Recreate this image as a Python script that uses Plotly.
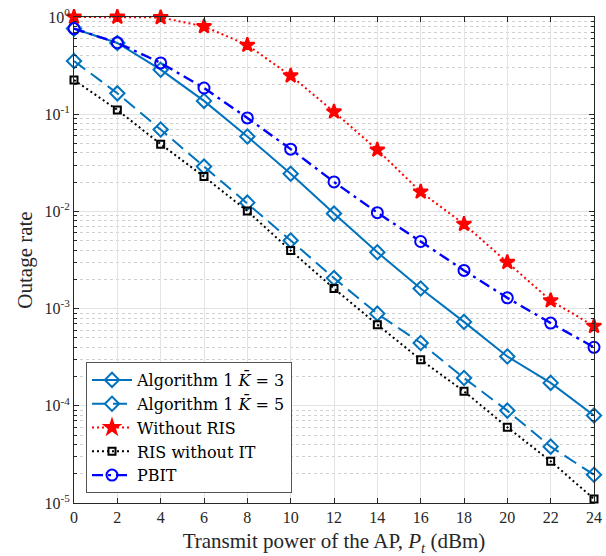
import plotly.graph_objects as go

# Transmit power of the AP (dBm)
power_dbm = [0, 2, 4, 6, 8, 10, 12, 14, 16, 18, 20, 22, 24]

# Outage rate of each scheme
alg1_k3 = [0.76, 0.54, 0.287, 0.137, 0.0589, 0.0244, 0.0095, 0.0038,
           0.00161, 0.00073, 0.000322, 0.000172, 0.0000795]
alg1_k5 = [0.353, 0.164, 0.0695, 0.0289, 0.0123, 0.00502, 0.00206, 0.000887,
           0.000443, 0.000193, 0.0000892, 0.000038, 0.0000195]
without_ris = [1.0, 1.0, 0.99, 0.80, 0.515, 0.249, 0.106, 0.043,
               0.0159, 0.0074, 0.0030, 0.00121, 0.00066]
ris_without_it = [0.225, 0.1107, 0.0492, 0.0228, 0.0101, 0.00395, 0.00161, 0.000684,
                  0.000298, 0.000141, 0.0000602, 0.0000269, 0.0000110]
pbit = [0.76, 0.544, 0.337, 0.186, 0.0916, 0.0437, 0.0201, 0.0097,
        0.0049, 0.00247, 0.00129, 0.00071, 0.00040]

x_ticks = [0, 2, 4, 6, 8, 10, 12, 14, 16, 18, 20, 22, 24]
y_tick_exps = [0, -1, -2, -3, -4, -5]

FONT = "Times New Roman"
LEGEND_FONT = "DejaVu Serif"
AXIS_COLOR = "#262626"

fig = go.Figure()

def add_series(y, name, color, dash, symbol, msize, mfill=None, lw=2.0):
    fig.add_trace(go.Scatter(
        x=power_dbm, y=y, name=name, mode="lines+markers",
        line=dict(color=color, width=lw, dash=dash),
        marker=dict(symbol=symbol, size=msize, color=mfill or color,
                    line=dict(color=color, width=2)),
        cliponaxis=False,
    ))

add_series(alg1_k3, "Algorithm 1 <i>K\u0304</i> = 3", "#0072BD", "solid", "diamond-open", 11)
add_series(alg1_k5, "Algorithm 1 <i>K\u0304</i> = 5", "#0072BD", "14px,7px", "diamond-open", 11)
add_series(without_ris, "Without RIS", "#FF0000", "2px,3px", "star", 11)
add_series(ris_without_it, "RIS without IT", "#000000", "2px,3px", "square-open", 7)
add_series(pbit, "PBIT", "#0000FF", "11px,5px,3px,5px", "circle-open", 11, lw=2.4)

minor_vals = [m * 10.0 ** e for e in range(-5, 0) for m in range(2, 10)]

fig.update_layout(
    width=606, height=556,
    margin=dict(l=74, r=12, t=17, b=53),
    paper_bgcolor="white", plot_bgcolor="white",
    font=dict(family=FONT, color=AXIS_COLOR, size=16),
    showlegend=True,
    legend=dict(
        x=(86 - 74) / 520, y=(503 - 362) / 486, xanchor="left", yanchor="top",
        bgcolor="white", bordercolor="#555555", borderwidth=1,
        font=dict(family=LEGEND_FONT, size=16, color="#000000"),
        tracegroupgap=0, itemwidth=40,
    ),
)

fig.update_xaxes(
    range=[0, 24], tickvals=x_ticks, ticktext=[str(v) for v in x_ticks],
    automargin=False,
    showline=True, linecolor=AXIS_COLOR, linewidth=1, mirror="allticks",
    ticks="inside", ticklen=5, tickcolor=AXIS_COLOR,
    showgrid=True, gridcolor="#e3e3e3", gridwidth=1,
    zeroline=False, tickfont=dict(family=FONT, size=16, color=AXIS_COLOR),
    title=dict(text="Transmit power of the AP, <i>P<sub>t</sub></i> (dBm)",
               font=dict(family=FONT, size=21, color=AXIS_COLOR), standoff=8),
)

fig.update_yaxes(
    type="log", range=[-5, 0],
    tickvals=[10.0 ** e for e in y_tick_exps],
    ticktext=["10<sup>%d</sup>" % e for e in y_tick_exps],
    automargin=False,
    showline=True, linecolor=AXIS_COLOR, linewidth=1, mirror="allticks",
    ticks="inside", ticklen=5, tickcolor=AXIS_COLOR,
    showgrid=True, gridcolor="#e3e3e3", gridwidth=1,
    zeroline=False, tickfont=dict(family=FONT, size=16, color=AXIS_COLOR),
    minor=dict(tickvals=minor_vals, ticks="inside", ticklen=3, tickcolor=AXIS_COLOR,
               showgrid=True, gridcolor="#d0d0d0", griddash="dot", gridwidth=1),
    title=dict(text="Outage rate", font=dict(family=FONT, size=21, color=AXIS_COLOR), standoff=6),
)

fig.write_html("out.html")
